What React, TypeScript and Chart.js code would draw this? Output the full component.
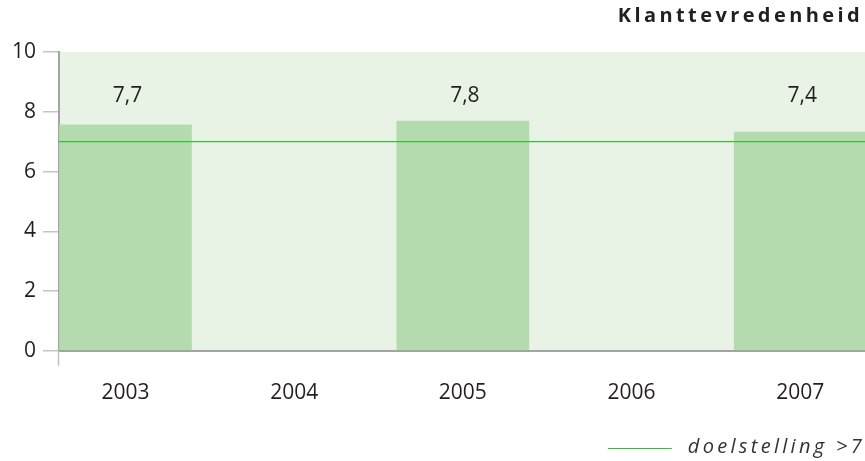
import React, { useEffect, useRef } from "react";
import { Chart, registerables } from "chart.js";

Chart.register(...registerables);

// ---- data ----
const years = ["2003", "2004", "2005", "2006", "2007"];
const scores: (number | null)[] = [7.57, null, 7.7, null, 7.33];
const scoreLabels = ["7,7", "", "7,8", "", "7,4"];
const target = 7;
const labelLevel = 8.54; // value level where the score labels sit
const yTickValues = [0, 2, 4, 6, 8, 10];
const title = "Klanttevredenheid";
const legendText = "doelstelling >7";

// ---- axis bounds ----
const X_MIN = -0.394;
const X_MAX = 4.384;

const FONT = "'Open Sans', 'Noto Sans', sans-serif";
const TEXT = "#231f20";
const BG = "#e8f3e6";
const BAR = "#b3dbae";
const LINE = "#36c036";
const AXIS = "#a4a4a4";
const TICK = "#c4c4c4";

const decorPlugin = {
  id: "decor",
  beforeDraw(chart: any) {
    const { ctx, chartArea } = chart;
    ctx.save();
    ctx.fillStyle = BG;
    ctx.fillRect(chartArea.left, chartArea.top, chartArea.right - chartArea.left, chartArea.bottom - chartArea.top);
    ctx.restore();
  },
  afterDatasetsDraw(chart: any) {
    const { ctx } = chart;
    const xs = chart.scales.x;
    const ys = chart.scales.y;
    ctx.save();
    ctx.font = `400 21px ${FONT}`;
    ctx.fillStyle = TEXT;
    ctx.textAlign = "center";
    ctx.textBaseline = "middle";
    scoreLabels.forEach((lab, i) => {
      if (!lab) return;
      ctx.fillText(lab, xs.getPixelForValue(i) + 2, ys.getPixelForValue(labelLevel));
    });
    ctx.restore();
  },
  afterDraw(chart: any) {
    const { ctx, chartArea, width, height } = chart;
    ctx.save();
    // y-axis extension below the x axis
    ctx.strokeStyle = TICK;
    ctx.lineWidth = 1.5;
    ctx.beginPath();
    ctx.moveTo(chartArea.left - 0.5, chartArea.bottom);
    ctx.lineTo(chartArea.left - 0.5, chartArea.bottom + 15);
    ctx.stroke();

    // title
    ctx.fillStyle = TEXT;
    ctx.font = `700 20px ${FONT}`;
    (ctx as any).letterSpacing = "3.4px";
    ctx.textAlign = "right";
    ctx.textBaseline = "middle";
    ctx.fillText(title, width - 2, 16);

    // legend
    ctx.font = `italic 400 20px ${FONT}`;
    (ctx as any).letterSpacing = "3.3px";
    ctx.fillStyle = "#333333";
    ctx.textAlign = "right";
    const tw = ctx.measureText(legendText).width;
    const tx = width;
    ctx.fillText(legendText, tx, height - 14);
    const start = tx - tw;
    ctx.strokeStyle = LINE;
    ctx.lineWidth = 1.2;
    ctx.beginPath();
    ctx.moveTo(start - 80, height - 12.5);
    ctx.lineTo(start - 16, height - 12.5);
    ctx.stroke();
    ctx.restore();
  },
};

export default function App() {
  const ref = useRef<HTMLCanvasElement>(null);
  useEffect(() => {
    if (!ref.current) return;
    const chart = new Chart(ref.current, {
      type: "bar",
      data: {
        datasets: [
          {
            type: "line",
            label: legendText,
            data: [
              { x: X_MIN, y: target },
              { x: X_MAX, y: target },
            ],
            borderColor: LINE,
            borderWidth: 1.3,
            pointRadius: 0,
            order: 0,
          } as any,
          {
            type: "bar",
            label: title,
            data: years.map((_, i) => ({ x: i, y: scores[i] })),
            backgroundColor: BAR,
            borderWidth: 0,
            barPercentage: 0.787,
            categoryPercentage: 1,
            order: 1,
          } as any,
        ],
      },
      options: {
        animation: false,
        responsive: false,
        events: [],
        layout: { padding: { left: 5, top: 52, right: 0, bottom: 40 } },
        plugins: {
          legend: { display: false },
          tooltip: { enabled: false },
          title: { display: false },
        },
        scales: {
          x: {
            type: "linear",
            min: X_MIN,
            max: X_MAX,
            offset: false,
            grid: {
              display: true,
              offset: false,
              drawOnChartArea: false,
              drawTicks: true,
              tickLength: 15,
              color: "rgba(0,0,0,0)",
            },
            border: { display: true, color: AXIS, width: 2 },
            ticks: {
              stepSize: 1,
              includeBounds: false,
              autoSkip: false,
              maxRotation: 0,
              padding: 15,
              color: TEXT,
              font: { family: FONT, size: 21 },
              callback: (v: any) => (Number.isInteger(v) && years[v] ? years[v] : ""),
            },
          },
          y: {
            min: 0,
            max: 10,
            afterBuildTicks: (scale: any) => {
              scale.ticks = yTickValues.map((v) => ({ value: v }));
            },
            grid: {
              drawOnChartArea: false,
              drawTicks: true,
              tickLength: 16,
              color: TICK,
              lineWidth: 1.5,
            },
            border: { display: true, color: AXIS, width: 2 },
            ticks: {
              padding: 7,
              color: TEXT,
              font: { family: FONT, size: 21 },
            },
          },
        },
      },
      plugins: [decorPlugin],
    });
    return () => chart.destroy();
  }, []);
  return (
    <div style={{ position: "absolute", left: 0, top: 0, width: 865, height: 461 }}>
      <canvas ref={ref} width={865} height={461} />
    </div>
  );
}
